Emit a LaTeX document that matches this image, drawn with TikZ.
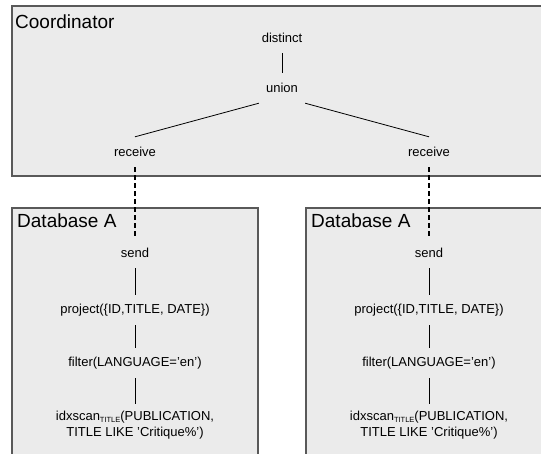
\documentclass[tikz,border=0pt]{standalone}
\usepackage{fontspec}
\setmainfont{Liberation Sans}
\usepackage{tikz}
\usetikzlibrary{positioning}

\tikzset{
  site/.style={draw=black!65, line width=1.3pt, fill=black!8},
  sitename/.style={anchor=base west, inner sep=0pt, font=\fontsize{19}{22}\selectfont},
  op/.style={inner sep=7pt, minimum height=30pt, align=center, font=\fontsize{13}{16}\selectfont},
  edge/.style={color=black, line width=0.8pt},
  ship/.style={color=black, line width=1.5pt, dash pattern=on 5pt off 3pt}
}
\newcommand{\idxsub}[1]{\raisebox{-0.3ex}{\fontsize{7.5}{8}\selectfont #1}}

\begin{document}
\begin{tikzpicture}[x=1pt, y=-1pt]
\clip (0,0) rectangle (541,454);
\fill[white] (0,0) rectangle (541,454);

% sites
\draw[site] (12,6) rectangle (560,176);
\draw[site] (12,208) rectangle (258,470);
\draw[site] (306,208) rectangle (560,470);
\node[sitename] (coord) at (15,29) {Coordinator};
\node[sitename] (dbleft) at (17,228) {Database A};
\node[sitename] (dbright) at (311,228) {Database A};

% coordinator plan
\node[op] (distinct) at (282,38) {distinct};
\node[op] (union) at (282,88) {union};
\node[op] (recvl) at (135,152) {receive};
\node[op] (recvr) at (429,152) {receive};

% left database plan
\node[op] (sendl) at (135,253) {send};
\node[op] (projl) at (135,310) {project(\{ID,TITLE, DATE\})};
\node[op] (filtl) at (135,363) {filter(LANGUAGE=’en’)};
\node[op] (scanl) at (135,425) {idxscan\idxsub{TITLE}(PUBLICATION,\\TITLE LIKE ’Critique\%’)};

% right database plan
\node[op] (sendr) at (429,253) {send};
\node[op] (projr) at (429,310) {project(\{ID,TITLE, DATE\})};
\node[op] (filtr) at (429,363) {filter(LANGUAGE=’en’)};
\node[op] (scanr) at (429,425) {idxscan\idxsub{TITLE}(PUBLICATION,\\TITLE LIKE ’Critique\%’)};

\draw[edge] (distinct) -- (union);
\draw[edge] (union.south west) -- (recvl.north);
\draw[edge] (union.south east) -- (recvr.north);

\draw[ship] (recvl) -- (sendl);
\draw[ship] (recvr) -- (sendr);

\draw[edge] (sendl) -- (projl);
\draw[edge] (projl) -- (filtl);
\draw[edge] (filtl) -- (scanl);
\draw[edge] (sendr) -- (projr);
\draw[edge] (projr) -- (filtr);
\draw[edge] (filtr) -- (scanr);
\end{tikzpicture}
\end{document}
